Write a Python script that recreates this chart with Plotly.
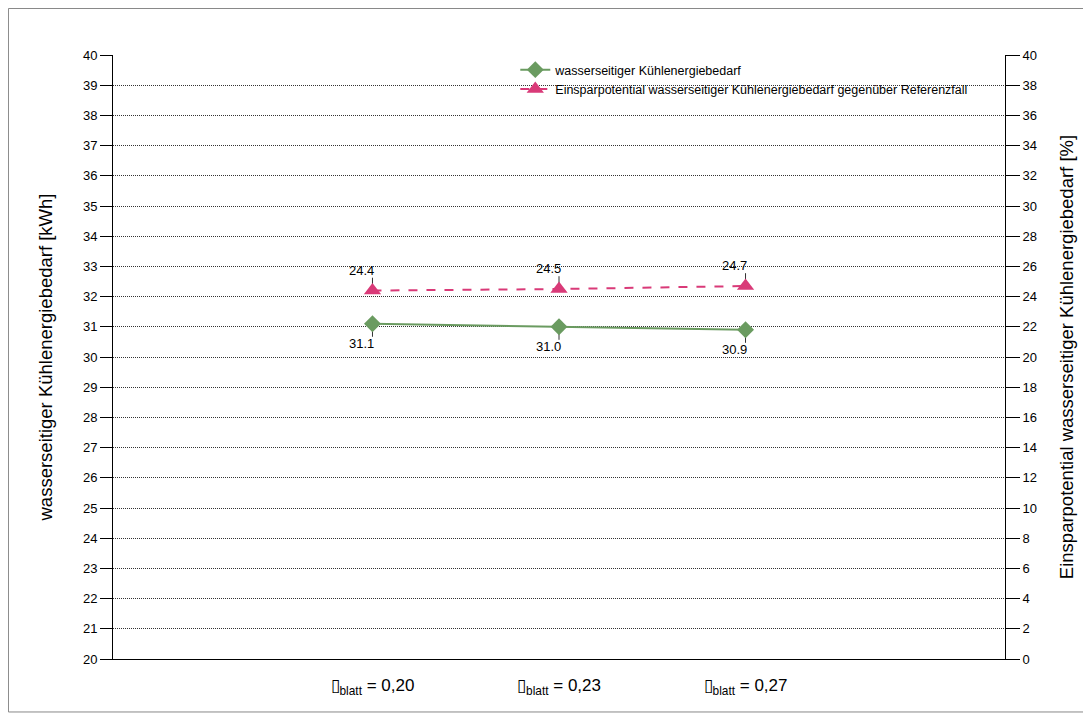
import plotly.graph_objects as go

# Werte
kategorien = ["▯<sub>blatt</sub> = 0,20", "▯<sub>blatt</sub> = 0,23", "▯<sub>blatt</sub> = 0,27"]
kuehlenergie = [31.1, 31.0, 30.9]           # kWh, linke Achse
einsparpotential = [24.4, 24.5, 24.7]       # %, rechte Achse

name_gruen = "wasserseitiger Kühlenergiebedarf"
name_pink = "Einsparpotential wasserseitiger Kühlenergiebedarf gegenüber Referenzfall"

gruen = "#6a9b60"
pink = "#d93a78"
font = "Liberation Sans, Arial, sans-serif"

x = list(range(len(kategorien)))

fig = go.Figure()

fig.add_trace(go.Scatter(
    x=x, y=kuehlenergie, name=name_gruen, mode="lines+markers",
    line=dict(color=gruen, width=2),
    marker=dict(symbol="diamond", size=13, color=gruen),
    error_y=dict(type="data", array=[0] * 3, arrayminus=[0.43] * 3,
                 symmetric=False, color="#333333", thickness=1, width=0),
    yaxis="y",
))

fig.add_trace(go.Scatter(
    x=x, y=einsparpotential, name=name_pink, mode="lines+markers",
    line=dict(color=pink, width=2, dash="dash"),
    marker=dict(symbol="triangle-up", size=15, color=pink),
    error_y=dict(type="data", array=[0.85] * 3, arrayminus=[0] * 3,
                 symmetric=False, color="#333333", thickness=1, width=0),
    yaxis="y2",
))

# Datenbeschriftungen
for xi, v in zip(x, kuehlenergie):
    fig.add_annotation(x=xi, y=v, yref="y", text=f"{v:.1f}", showarrow=False,
                       xanchor="center", yanchor="top", xshift=-11, yshift=-10,
                       font=dict(family=font, size=13, color="black"))
for xi, v in zip(x, einsparpotential):
    fig.add_annotation(x=xi, y=v, yref="y2", text=f"{v:.1f}", showarrow=False,
                       xanchor="center", yanchor="bottom", xshift=-11, yshift=11,
                       font=dict(family=font, size=13, color="black"))

# Rahmen um das gesamte Diagramm (Seite hat 8px Rand)
fig.add_shape(type="rect", xref="paper", yref="paper",
              x0=-0.1172, x1=1.0886, y0=-0.0877, y1=1.077,
              line=dict(color="#888888", width=1), fillcolor="rgba(0,0,0,0)", layer="below")

fig.update_layout(
    width=1083, height=712,
    margin=dict(l=105, r=86, t=47, b=61),
    paper_bgcolor="white", plot_bgcolor="white",
    font=dict(family=font, size=13, color="black"),
    showlegend=True,
    legend=dict(x=0.451, y=1.0, xanchor="left", yanchor="top",
                bgcolor="rgba(0,0,0,0)", font=dict(size=12.5), tracegroupgap=0,
                itemwidth=30),
    xaxis=dict(
        range=[-1.391, 3.391], tickvals=x, ticktext=kategorien,
        showgrid=False, zeroline=False, showline=True, linecolor="black", linewidth=1,
        ticks="", ticklabelstandoff=11, tickfont=dict(size=17),
    ),
    yaxis=dict(
        title=dict(text="wasserseitiger Kühlenergiebedarf [kWh]", font=dict(size=18.5), standoff=25),
        range=[20, 40], dtick=1, showgrid=True, gridcolor="#333333", griddash="1px,1px", gridwidth=1,
        zeroline=False, showline=True, linecolor="black", linewidth=1,
        ticks="outside", ticklen=12, tickcolor="black", tickfont=dict(size=13),
    ),
    yaxis2=dict(
        title=dict(text="Einsparpotential wasserseitiger Kühlenergiebedarf [%]", font=dict(size=18.5), standoff=23),
        range=[0, 40], dtick=2, overlaying="y", side="right", showgrid=False,
        zeroline=False, showline=True, linecolor="black", linewidth=1,
        ticks="outside", ticklen=14, tickcolor="black", tickfont=dict(size=13),
    ),
)

fig.write_html("out.html")
